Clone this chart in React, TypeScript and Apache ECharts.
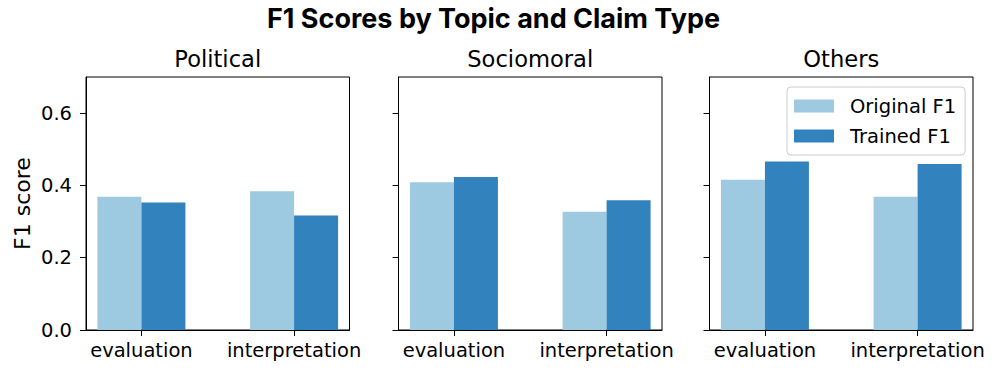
import React, { useEffect, useRef } from "react";
import * as echarts from "echarts";

const claimTypes = ["evaluation", "interpretation"];
const topics = ["Political", "Sociomoral", "Others"];
const originalF1 = [
  [0.369, 0.384],
  [0.409, 0.327],
  [0.416, 0.369],
];
const trainedF1 = [
  [0.353, 0.317],
  [0.423, 0.359],
  [0.466, 0.459],
];
const yTicks = [0, 0.2, 0.4, 0.6];
const xTicks = [0, 1];

const LIGHT = "#9ecae1";
const DARK = "#3182bd";
const FONT = "DejaVu Sans";

export default function App() {
  const ref = useRef<HTMLDivElement>(null);
  useEffect(() => {
    if (!ref.current) return;
    const chart = echarts.init(ref.current, null, { renderer: "svg" });
    const gridLefts = [86, 398.5, 709.5];
    const gridWidth = 263.5;
    const grids = gridLefts.map((l) => ({
      left: l,
      width: gridWidth,
      top: 77,
      bottom: 45,
      show: true,
      borderColor: "#000",
      borderWidth: 1,
      backgroundColor: "transparent",
    }));
    const xAxes = topics.map((_, i) => ({
      type: "value",
      gridIndex: i,
      min: -0.363,
      max: 1.363,
      splitLine: { show: false },
      axisLine: { show: true, onZero: false, lineStyle: { color: "#000", width: 1 } },
      axisTick: { show: true, length: 6, customValues: xTicks, lineStyle: { color: "#000" } },
      axisLabel: {
        customValues: xTicks,
        formatter: (v: number) => claimTypes[Math.round(v)] ?? "",
        fontFamily: FONT,
        fontSize: 19.5,
        color: "#000",
        margin: 10,
      },
    }));
    const yAxes = topics.map((_, i) => ({
      type: "value",
      gridIndex: i,
      min: 0,
      max: 0.7,
      splitLine: { show: false },
      axisLine: { show: true, onZero: false, lineStyle: { color: "#000", width: 1 } },
      axisTick: { show: true, length: 6, customValues: yTicks, lineStyle: { color: "#000" } },
      axisLabel: {
        show: i === 0,
        customValues: yTicks,
        formatter: (v: number) => v.toFixed(1),
        fontFamily: FONT,
        fontSize: 19.5,
        color: "#000",
        margin: 14,
      },
      name: i === 0 ? "F1 score" : "",
      nameLocation: "middle",
      nameGap: 53,
      nameTextStyle: { fontFamily: FONT, fontSize: 22, color: "#000" },
    }));
    const series: any[] = [];
    topics.forEach((_, i) => {
      series.push({
        type: "bar",
        name: "Original F1",
        xAxisIndex: i,
        yAxisIndex: i,
        barWidth: 44,
        barGap: "0%",
        itemStyle: { color: LIGHT },
        data: claimTypes.map((_, j) => [xTicks[j], originalF1[i][j]]),
      });
      series.push({
        type: "bar",
        name: "Trained F1",
        xAxisIndex: i,
        yAxisIndex: i,
        barWidth: 44,
        barGap: "0%",
        itemStyle: { color: DARK },
        data: claimTypes.map((_, j) => [xTicks[j], trainedF1[i][j]]),
      });
    });
    const titles: any[] = [
      {
        text: "F1 Scores by Topic and Claim Type",
        left: 493.5,
        top: 4.5,
        textAlign: "center",
        padding: 0,
        textStyle: { fontFamily: "Inter", fontWeight: "bold", fontSize: 27, lineHeight: 27, color: "#000" },
      },
      ...topics.map((t, i) => ({
        text: t,
        left: gridLefts[i] + gridWidth / 2,
        top: 47,
        textAlign: "center",
        padding: 0,
        textStyle: { fontFamily: FONT, fontWeight: "normal", fontSize: 22.6, lineHeight: 23, color: "#000" },
      })),
    ];
    chart.setOption({
      animation: false,
      title: titles,
      grid: grids,
      xAxis: xAxes,
      yAxis: yAxes,
      legend: {
        data: ["Original F1", "Trained F1"],
        orient: "vertical",
        left: 787,
        top: 87,
        itemWidth: 40,
        itemHeight: 13,
        itemGap: 10,
        padding: [9, 9, 9, 7],
        backgroundColor: "rgba(255,255,255,0.8)",
        borderColor: "#cccccc",
        borderWidth: 1,
        borderRadius: 4,
        icon: "rect",
        selectedMode: false,
        textStyle: { fontFamily: FONT, fontSize: 19.5, lineHeight: 18, color: "#000", padding: [0, 0, 0, 11] },
      },
      series,
    });
    return () => chart.dispose();
  }, []);
  return (
    <div
      ref={ref}
      style={{ position: "fixed", left: 0, top: 0, width: 996, height: 375, background: "#fff" }}
    />
  );
}
